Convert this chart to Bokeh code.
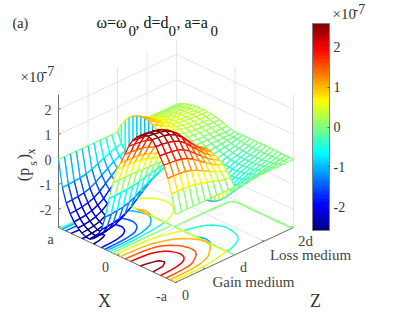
import numpy as np
import contourpy
from bokeh.plotting import figure
from bokeh.models import Range1d, ColumnDataSource, LinearColorMapper, ColorBar, FixedTicker
from bokeh.transform import linear_cmap
from bokeh.core.properties import value
from bokeh.embed import file_html
from bokeh.resources import INLINE

# X positions in units of a (first column of every row is X=a, last is X=-a)
x_values = [1.0, .933, .867, .8, .733, .667, .6, .533, .467, .4, .333, .267, .2, .133, .067, 0.0,
            -.067, -.133, -.2, -.267, -.333, -.4, -.467, -.533, -.6, -.667, -.733, -.8, -.867, -.933, -1.0]
# Z positions in units of d, gain medium then loss medium (jump at Z=d)
z_gain = [0.0, 0.1, 0.2, 0.3, 0.4, 0.5, 0.6, 0.7, 0.8, 0.9, 1.0]
z_loss = [1.0, 1.1, 1.2, 1.3, 1.4, 1.5, 1.6, 1.7, 1.8, 1.9, 2.0]
# (p_s)_x in units of 1e-7, one row for each Z
gain_rows = [
    [0, -1.05, -1.60, -1.95, -2.20, -2.38, -2.50, -2.58, -2.60, -2.50, -2.30, -2.00, -1.42, -.60, .10, .70, 1.05, 1.45, 1.85, 2.15, 2.35, 2.50, 2.60, 2.62, 2.55, 2.35, 2.05, 1.75, 1.30, .75, 0],
    [0, -1.04, -1.58, -1.93, -2.18, -2.36, -2.48, -2.55, -2.57, -2.48, -2.28, -1.98, -1.41, -.59, .10, .69, 1.04, 1.44, 1.83, 2.13, 2.33, 2.48, 2.57, 2.59, 2.52, 2.33, 2.03, 1.73, 1.29, .74, 0],
    [0, -1.02, -1.56, -1.90, -2.15, -2.32, -2.44, -2.52, -2.54, -2.44, -2.24, -1.95, -1.38, -.58, .10, .68, 1.02, 1.41, 1.80, 2.10, 2.29, 2.44, 2.54, 2.55, 2.49, 2.29, 2.00, 1.71, 1.27, .73, 0],
    [0, -1.00, -1.52, -1.85, -2.09, -2.26, -2.38, -2.45, -2.47, -2.38, -2.19, -1.90, -1.35, -.57, .10, .67, 1.00, 1.38, 1.76, 2.04, 2.23, 2.38, 2.47, 2.49, 2.42, 2.23, 1.95, 1.66, 1.24, .71, 0],
    [0, -.95, -1.44, -1.76, -1.98, -2.14, -2.25, -2.32, -2.34, -2.25, -2.07, -1.80, -1.28, -.54, .09, .63, .95, 1.31, 1.67, 1.94, 2.12, 2.25, 2.34, 2.36, 2.30, 2.12, 1.85, 1.58, 1.17, .68, 0],
    [0, -.87, -1.32, -1.61, -1.82, -1.96, -2.06, -2.13, -2.15, -2.06, -1.90, -1.65, -1.17, -.50, .08, .58, .87, 1.20, 1.53, 1.77, 1.94, 2.06, 2.15, 2.16, 2.10, 1.94, 1.69, 1.44, 1.07, .62, 0],
    [0, -.76, -1.15, -1.40, -1.58, -1.71, -1.80, -1.86, -1.87, -1.80, -1.66, -1.44, -1.02, -.43, .07, .50, .76, 1.04, 1.33, 1.55, 1.69, 1.80, 1.87, 1.89, 1.84, 1.69, 1.48, 1.26, .94, .54, 0],
    [0, -.65, -.99, -1.21, -1.36, -1.48, -1.55, -1.60, -1.61, -1.55, -1.43, -1.24, -.88, -.37, .06, .43, .65, .90, 1.15, 1.33, 1.46, 1.55, 1.61, 1.62, 1.58, 1.46, 1.27, 1.09, .81, .47, 0],
    [0, -.55, -.83, -1.01, -1.14, -1.24, -1.30, -1.34, -1.35, -1.30, -1.20, -1.04, -.74, -.31, .05, .36, .55, .75, .96, 1.12, 1.22, 1.30, 1.35, 1.36, 1.33, 1.22, 1.07, .91, .68, .39, 0],
    [0, -.46, -.70, -.86, -.97, -1.05, -1.10, -1.14, -1.14, -1.10, -1.01, -.88, -.62, -.26, .04, .31, .46, .64, .81, .95, 1.03, 1.10, 1.14, 1.15, 1.12, 1.03, .90, .77, .57, .33, 0],
    [0, -.40, -.61, -.74, -.84, -.90, -.95, -.98, -.99, -.95, -.87, -.76, -.54, -.23, .04, .27, .40, .55, .70, .82, .89, .95, .99, 1.00, .97, .89, .78, .67, .49, .29, 0],
]
loss_rows = [
    [0, .38, .62, .80, .92, 1.00, 1.05, 1.06, 1.03, .95, .84, .68, .52, .30, .12, -.10, -.32, -.53, -.74, -.89, -.99, -1.05, -1.06, -1.04, -1.00, -.93, -.83, -.68, -.52, -.30, 0],
    [0, .33, .54, .70, .80, .87, .91, .92, .90, .83, .73, .59, .45, .26, .10, -.09, -.28, -.47, -.65, -.78, -.87, -.92, -.93, -.92, -.88, -.82, -.73, -.60, -.46, -.26, 0],
    [0, .27, .45, .58, .66, .72, .76, .76, .74, .68, .60, .49, .37, .22, .09, -.08, -.24, -.40, -.56, -.68, -.75, -.80, -.81, -.79, -.76, -.71, -.63, -.52, -.40, -.23, 0],
    [0, .22, .36, .46, .53, .58, .61, .61, .60, .55, .49, .39, .30, .17, .07, -.06, -.20, -.34, -.47, -.57, -.63, -.67, -.68, -.67, -.64, -.60, -.53, -.44, -.33, -.19, 0],
    [0, .17, .29, .37, .42, .46, .48, .49, .47, .44, .39, .31, .24, .14, .06, -.05, -.16, -.27, -.37, -.45, -.50, -.53, -.53, -.52, -.50, -.47, -.42, -.34, -.26, -.15, 0],
    [0, .15, .25, .32, .37, .40, .42, .42, .41, .38, .34, .27, .21, .12, .05, -.04, -.13, -.21, -.30, -.36, -.40, -.42, -.42, -.42, -.40, -.37, -.33, -.27, -.21, -.12, 0],
    [0, .14, .22, .29, .33, .36, .38, .38, .37, .34, .30, .24, .19, .11, .04, -.03, -.10, -.16, -.23, -.28, -.31, -.33, -.33, -.32, -.31, -.29, -.26, -.21, -.16, -.09, 0],
    [0, .13, .20, .26, .30, .33, .35, .35, .34, .31, .28, .22, .17, .10, .04, -.03, -.08, -.13, -.18, -.21, -.24, -.25, -.25, -.25, -.24, -.22, -.20, -.16, -.12, -.07, 0],
    [0, .12, .19, .25, .29, .31, .33, .33, .32, .29, .26, .21, .16, .09, .04, -.02, -.05, -.09, -.13, -.15, -.17, -.18, -.18, -.18, -.17, -.16, -.14, -.12, -.09, -.05, 0],
    [0, .11, .18, .23, .27, .29, .30, .31, .30, .28, .24, .20, .15, .09, .03, -.01, -.03, -.04, -.06, -.07, -.08, -.08, -.08, -.08, -.08, -.07, -.07, -.05, -.04, -.02, 0],
    [0, .11, .18, .23, .27, .29, .30, .31, .30, .28, .24, .20, .15, .09, .03, .01, .01, .01, .02, .03, .03, .03, .03, .03, .03, .03, .03, .02, .01, .01, 0],
]
contour_levels = [-2.5, -2.0, -1.5, -1.0, -0.5, 0.0, 0.5, 1.0, 1.5, 2.0, 2.5]
p_ticks = [-2, -1, 0, 1, 2]
z_grid = [0.0, 0.5, 1.0, 1.5, 2.0]
x_grid = [-1.0, 0.0, 1.0]
colorbar_ticks = [-2, -1, 0, 1, 2]

C_LOW, C_HIGH = -2.6, 2.6
P_FLOOR, P_TOP = -2.72, 2.6


def jet(n):
    out = []
    for i in range(n):
        t = (i + 0.5) / n
        r = np.clip(min(4 * t - 1.5, -4 * t + 4.5), 0, 1)
        g = np.clip(min(4 * t - 0.5, -4 * t + 3.5), 0, 1)
        b = np.clip(min(4 * t + 0.5, -4 * t + 2.5), 0, 1)
        out.append("#%02x%02x%02x" % (int(r * 255), int(g * 255), int(b * 255)))
    return out


JET = jet(64)


def proj(u, w, v):
    """Axes view: X in [-1,1], Z in [0,2], value -> page pixels."""
    u, w, v = np.asarray(u, float), np.asarray(w, float), np.asarray(v, float)
    s = u + 1
    px = 175 - 58.5 * s + 59 * w
    py = 282 - 27.5 * s - 27.5 * w - 25 * (v - P_FLOOR)
    return px, py


p = figure(width=415, height=319, x_range=Range1d(0, 415), y_range=Range1d(319, 0),
           output_backend="svg", toolbar_location=None, min_border=0,
           outline_line_color=None, background_fill_color="white")
p.axis.visible = False
p.grid.visible = False

GRID = "#e6e6e6"
AXIS = "#6e6e6e"


def seg(a, b, color, width=1.0):
    x0, y0 = proj(*zip(*a))
    x1, y1 = proj(*zip(*b))
    p.segment(x0, y0, x1, y1, line_color=color, line_width=width)


# back walls and floor grid
seg([(1, z, P_FLOOR) for z in z_grid], [(1, z, P_TOP) for z in z_grid], GRID)
seg([(x, 2, P_FLOOR) for x in x_grid], [(x, 2, P_TOP) for x in x_grid], GRID)
seg([(1, 0, t) for t in p_ticks], [(1, 2, t) for t in p_ticks], GRID)
seg([(1, 2, t) for t in p_ticks], [(-1, 2, t) for t in p_ticks], GRID)
seg([(x, 0, P_FLOOR) for x in x_grid], [(x, 2, P_FLOOR) for x in x_grid], GRID)
seg([(1, z, P_FLOOR) for z in z_grid], [(-1, z, P_FLOOR) for z in z_grid], GRID)

# axis lines and ticks
seg([(1, 0, P_FLOOR)], [(1, 0, P_TOP)], AXIS)
seg([(1, 0, P_FLOOR)], [(-1, 0, P_FLOOR)], AXIS)
seg([(-1, 0, P_FLOOR)], [(-1, 2, P_FLOOR)], AXIS)
seg([(1, 0, t) for t in p_ticks], [(1, 0.04, t) for t in p_ticks], AXIS)
seg([(x, 0, P_FLOOR) for x in x_grid], [(x, 0.04, P_FLOOR) for x in x_grid], AXIS)
seg([(-1, z, P_FLOOR) for z in z_grid], [(-0.96, z, P_FLOOR) for z in z_grid], AXIS)

# assemble the table: X ascending, Z ascending, with the jump row doubled
X = np.array(x_values)[::-1]
Z = np.array(z_gain + z_loss)
P = np.array(gain_rows + loss_rows, float)[:, ::-1]
n_z, n_x = P.shape
cmap = linear_cmap("v", JET, C_LOW, C_HIGH)

# contours on the floor
Zc = Z.copy()
Zc[10] -= 1e-3
Zc[11] += 1e-3
gen = contourpy.contour_generator(x=X, y=Zc, z=P)
cx, cy, cv = [], [], []
for lev in contour_levels:
    for line in gen.lines(lev):
        on_edge = np.abs(line[:, 0]) > 0.999
        pieces = []
        cur = [line[0]]
        for a in range(1, len(line)):
            if on_edge[a] and on_edge[a - 1]:
                if len(cur) > 1:
                    pieces.append(np.array(cur))
                cur = [line[a]]
            else:
                cur.append(line[a])
        if len(cur) > 1:
            pieces.append(np.array(cur))
        for piece in pieces:
            px, py = proj(piece[:, 0], piece[:, 1], np.full(len(piece), P_FLOOR))
            cx.append(px.tolist())
            cy.append(py.tolist())
            cv.append(lev)
p.multi_line("xs", "ys", source=ColumnDataSource(dict(xs=cx, ys=cy, v=cv)),
             line_color=cmap, line_width=1.5)

# mesh, painted from the back corner (X=a, Z=2d) to the front corner (X=-a, Z=0)
PX, PY = proj(*np.meshgrid(X, Z), P)
for depth in range((n_x - 1) + (n_z - 1) - 1):
    fx, fy = [], []
    x0, y0, x1, y1, vv = [], [], [], [], []
    for a in range(n_x - 1):
        b = depth - a
        if b < 0 or b >= n_z - 1:
            continue
        k = n_x - 2 - a
        j = n_z - 2 - b
        ring = [(j, k), (j, k + 1), (j + 1, k + 1), (j + 1, k)]
        fx.append([PX[q] for q in ring])
        fy.append([PY[q] for q in ring])
        for (q0, q1) in [((j, k), (j, k + 1)), ((j, k), (j + 1, k)),
                         ((j, k + 1), (j + 1, k + 1)), ((j + 1, k), (j + 1, k + 1))]:
            x0.append(PX[q0]); y0.append(PY[q0])
            x1.append(PX[q1]); y1.append(PY[q1])
            vv.append(P[q0])
    if not fx:
        continue
    p.patches(fx, fy, fill_color="white", line_color=None)
    p.segment("x0", "y0", "x1", "y1", source=ColumnDataSource(dict(x0=x0, y0=y0, x1=x1, y1=y1, v=vv)),
              line_color=cmap, line_width=1.3)

# colour bar
mapper = LinearColorMapper(palette=JET, low=C_LOW, high=C_HIGH)
bar = ColorBar(color_mapper=mapper, location=(312, 89), width=17, height=207, padding=0, margin=0,
               ticker=FixedTicker(ticks=colorbar_ticks),
               major_label_overrides={t: str(t) for t in colorbar_ticks},
               major_label_text_font="Liberation Serif", major_label_text_font_size="14px",
               major_label_text_color="#333333", label_standoff=4,
               major_tick_line_color="#555555", major_tick_in=2, major_tick_out=0,
               minor_tick_line_color=None,
               bar_line_color="#808080", bar_line_width=1)
p.add_layout(bar, "center")

FONT = value("Liberation Serif")


def label(x, y, s, size=14, color="#333333", align="center", angle=0.0):
    p.text(x=[x], y=[y], text=[s], text_font=FONT, text_font_size="%dpx" % size, text_color=color,
           text_align=align, text_baseline="middle", angle=angle)


# titles
label(12, 23, "(a)", 14, "#222222", "left")
label(96, 22, "\u03c9=\u03c9", 16, "#111111", "left")
label(128, 30, "0", 15, "#111111", "left")
label(135, 22, ", d=d", 16, "#111111", "left")
label(168, 30, "0", 15, "#111111", "left")
label(176, 22, ", a=a", 16, "#111111", "left")
label(210, 30, "0", 15, "#111111", "left")

# value axis
for t in p_ticks:
    px, py = proj(1, 0, t)
    label(float(px) - 7, float(py), str(t), 14, "#444444", "right")
label(20, 76, "\u00d710", 15, "#333333", "left")
label(42, 70, "-7", 14, "#333333", "left")
label(23, 174, "(p", 16, "#333333", "center", np.pi / 2)
label(32, 163, "s", 12, "#333333", "center", np.pi / 2)
label(23, 156, ")", 16, "#333333", "center", np.pi / 2)
label(30, 151, "x", 12, "#333333", "center", np.pi / 2)

# floor labels
label(50, 239, "a", 14, "#444444")
label(105, 266, "0", 14, "#444444")
label(161, 296, "-a", 14, "#444444")
label(185, 294, "0", 14, "#444444")
label(243, 267, "d", 14, "#444444")
label(305, 240, "2d", 15, "#444444")
label(104, 300, "X", 18, "#333333")
label(315, 300, "Z", 18, "#333333")
label(253, 281, "Gain medium", 15, "#444444")
label(310, 254, "Loss medium", 15, "#444444")

# colour bar exponent
label(332, 13, "\u00d710", 15, "#333333", "left")
label(353, 8, "-7", 14, "#333333", "left")

open("out.html", "w").write(file_html(p, INLINE))
